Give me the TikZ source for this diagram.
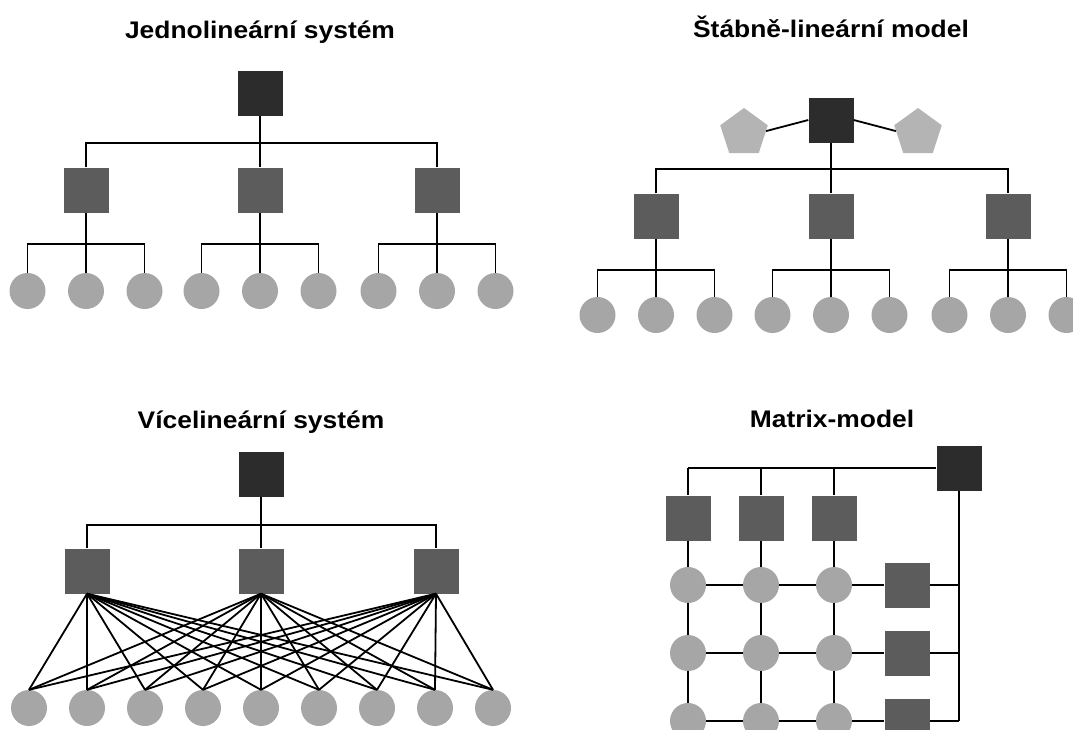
\documentclass[tikz,border=0pt]{standalone}
\usepackage{fontspec}
\setmainfont[FakeStretch=1.1]{Liberation Sans}
\usetikzlibrary{shapes.geometric}
\definecolor{topc}{HTML}{2C2C2C}
\definecolor{midc}{HTML}{5C5C5C}
\definecolor{leafc}{HTML}{A6A6A6}
\definecolor{staffc}{HTML}{B4B4B4}
\tikzset{
  boss/.style={rectangle, fill=topc, minimum size=45pt, inner sep=0pt},
  unit/.style={rectangle, fill=midc, minimum size=45pt, inner sep=0pt},
  leaf/.style={circle, fill=leafc, minimum size=36pt, inner sep=0pt},
  staff/.style={regular polygon, regular polygon sides=5, fill=staffc, minimum size=50pt, inner sep=0pt},
  link/.style={line width=1.8pt, black},
  title/.style={font=\bfseries\fontsize{24}{28}\selectfont, anchor=base}
}
\begin{document}
\begin{tikzpicture}[x=1pt, y=-1pt]
\useasboundingbox (0,0) rectangle (1073,729);
\clip (0,0) rectangle (1073,729);
\fill[white] (0,0) rectangle (1073,729);

% ---------- Panel 1: Jednolinearni system ----------
\node[title] (t1) at (260,38) {Jednolineární systém};
\node[boss] (a0) at (260,93) {};
\foreach \i/\x in {1/86,2/260,3/437} {
  \node[unit] (a\i) at (\x,190) {};
  \foreach \j/\d in {1/-58.5,2/0,3/58.5}
    \node[leaf] (a\i\j) at ({\x+\d},291) {};
}
\coordinate (ab) at (0,143);
\coordinate (abb) at (0,244);
\draw[link] (a0) -- (a0 |- ab);
\draw[link] (a1.north) |- (a3 |- ab) -- (a3.north);
\draw[link] (a2.north) -- (a2 |- ab);
\foreach \i in {1,2,3} {
  \draw[link] (a\i) -- (a\i |- abb);
  \draw[link] (a\i1.north) |- (a\i3 |- abb) -- (a\i3.north);
  \draw[link] (a\i2.north) -- (a\i2 |- abb);
}

% ---------- Panel 2: Stabne-linearni model ----------
\node[title] (t2) at (831,37) {Štábně-lineární model};
\node[boss] (s0) at (831,120) {};
\node[staff] (pl) at (744,133) {};
\node[staff] (pr) at (918,133) {};
\draw[link] (pl.5) -- (s0.west);
\draw[link] (s0.east) -- (pr.175);
\foreach \i/\x in {1/656,2/831,3/1008} {
  \node[unit] (s\i) at (\x,216) {};
  \foreach \j/\d in {1/-58.5,2/0,3/58.5}
    \node[leaf] (s\i\j) at ({\x+\d},315) {};
}
\coordinate (sb) at (0,169);
\coordinate (sbb) at (0,270);
\draw[link] (s0) -- (s0 |- sb);
\draw[link] (s1.north) |- (s3 |- sb) -- (s3.north);
\draw[link] (s2.north) -- (s2 |- sb);
\foreach \i in {1,2,3} {
  \draw[link] (s\i) -- (s\i |- sbb);
  \draw[link] (s\i1.north) |- (s\i3 |- sbb) -- (s\i3.north);
  \draw[link] (s\i2.north) -- (s\i2 |- sbb);
}

% ---------- Panel 3: Vicelinearni system ----------
\node[title] (t3) at (261,428) {Vícelineární systém};
\node[boss] (v0) at (261,474) {};
\foreach \i/\x in {1/87,2/261,3/436}
  \node[unit] (v\i) at (\x,571) {};
\foreach \k in {1,...,9}
  \node[leaf] (w\k) at ({29+58*(\k-1)},708) {};
\coordinate (vb) at (0,525);
\draw[link] (v0) -- (v0 |- vb);
\draw[link] (v1.north) |- (v3 |- vb) -- (v3.north);
\draw[link] (v2.north) -- (v2 |- vb);
\foreach \i in {1,2,3}
  \foreach \k in {1,...,9}
    \draw[link] (v\i.south) -- (w\k.north);

% ---------- Panel 4: Matrix-model ----------
\node[title] (t4) at (832,427) {Matrix-model};
\node[boss] (mt) at (959,468) {};
\foreach \c/\x in {1/688,2/761,3/834} {
  \node[unit] (p\c) at (\x,518) {};
  \foreach \r/\y in {1/585,2/653,3/721}
    \node[leaf] (m\r\c) at (\x,\y) {};
}
\foreach \r/\y in {1/585,2/653,3/721}
  \node[unit] (q\r) at (907,\y) {};
\draw[link] (p1 |- mt) -- (mt);
\draw[link] (mt) -- (mt |- q3);
\foreach \c in {1,2,3}
  \draw[link] (p\c |- mt) -- (p\c) -- (m1\c) -- (m2\c) -- (m3\c);
\foreach \r in {1,2,3}
  \draw[link] (m\r1) -- (m\r2) -- (m\r3) -- (q\r) -- (mt |- q\r);
\end{tikzpicture}
\end{document}
